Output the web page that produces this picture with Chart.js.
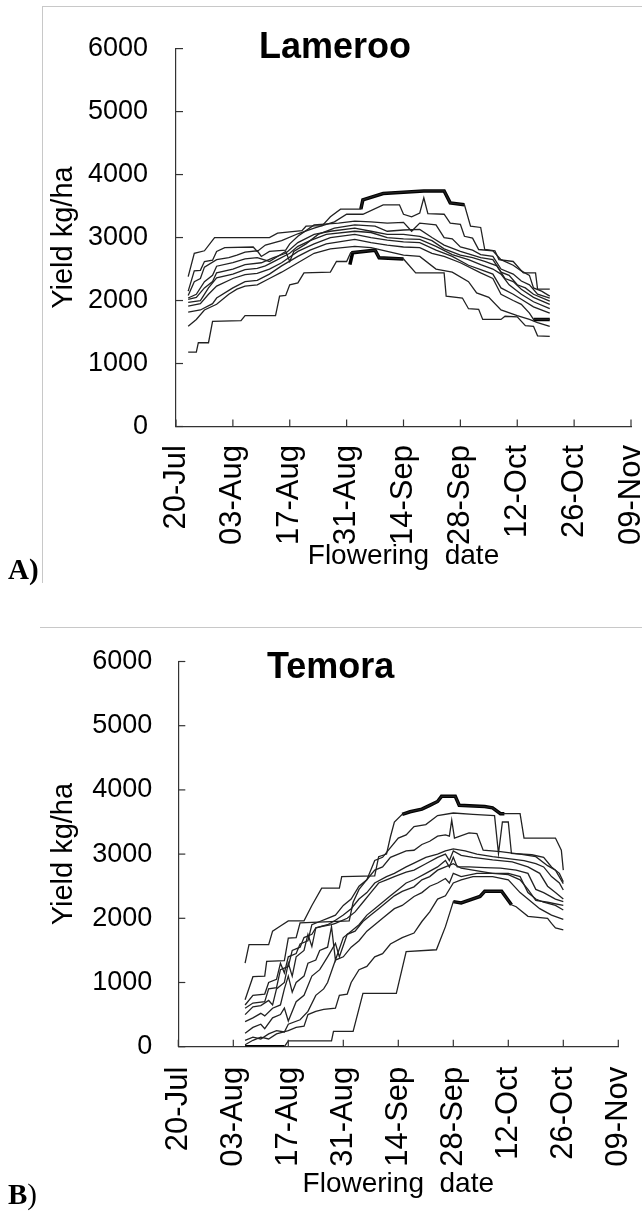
<!DOCTYPE html>
<html>
<head>
<meta charset="utf-8">
<script src="https://cdn.jsdelivr.net/npm/chart.js@4.4.1/dist/chart.umd.min.js"></script>
<style>
  html, body { margin: 0; padding: 0; background: #fff; width: 642px; height: 1213px; overflow: hidden; }
  .frameA { position: absolute; left: 42px; top: 6px; width: 600px; height: 576px; border-left: 1px solid #c8c8c8; border-top: 1px solid #c8c8c8; }
  .frameB { position: absolute; left: 40px; top: 627px; width: 602px; border-top: 1px solid #c8c8c8; }
  canvas { position: absolute; left: 0; }
  .site { position: absolute; font: bold 36px "Liberation Sans", Arial, sans-serif; line-height: 36px; color: #000; white-space: nowrap; }
  .tag { position: absolute; left: 8px; font: 29px "Liberation Serif", "Times New Roman", serif; line-height: 29px; color: #000; }
</style>
</head>
<body>
<div class="frameA"></div>
<div class="frameB"></div>
<canvas id="chartLameroo" width="642" height="600" style="top:0"></canvas>
<canvas id="chartTemora" width="642" height="613" style="top:600px"></canvas>
<div class="site" style="left:259px; top:28px">Lameroo</div>
<div class="site" style="left:267px; top:648px">Temora</div>
<div class="tag" style="top:555px"><b>A)</b></div>
<div class="tag" style="top:1180px"><b>B</b>)</div>
<script>
// x = days after 20-Jul, y = yield kg/ha
const dateTicks = ["20-Jul", "03-Aug", "17-Aug", "31-Aug", "14-Sep", "28-Sep", "12-Oct", "26-Oct", "09-Nov"];

// Lameroo
const lamL1 = [[3,2380],[4.5,2750],[7,2790],[9.5,3000],[23,3000],[25,3070],[31,3110],[32,3180],[36,3190],[38,3330],[40.5,3450],[45.5,3450],[46,3600],[51,3700],[61,3740],[66,3740],[67.5,3550],[71,3520],[72.5,3180],[75,3160],[76,2810],[78.5,2790],[79.5,2650],[83,2620],[85.5,2440],[88.5,2440],[89,2180],[92,2180]];
const lamL2 = [[3,2150],[4.5,2470],[6,2480],[7,2620],[9,2640],[10,2780],[12,2840],[19,2850],[20,2780],[22,2880],[26,2950],[30,3060],[34,3150],[39,3250],[42,3370],[46,3370],[51,3520],[55,3520],[56,3370],[58,3330],[60,3390],[61,3630],[62,3380],[66,3370],[67.5,3230],[70,3210],[71,3020],[73,2990],[74.5,2810],[78,2790],[80,2650],[83,2560],[85,2470],[87,2400],[88,2200],[90,2150],[92,2070]];
const lamL3 = [[3,2080],[4.5,2300],[6,2350],[7,2530],[10,2650],[13,2680],[15,2720],[17,2770],[20,2790],[21,2700],[23,2780],[27,2800],[28,2900],[30,3020],[34,3200],[40,3230],[44,3260],[48,3250],[52,3230],[56,3240],[58,3100],[60,3230],[64,3200],[66,3000],[68,2980],[70,2850],[73,2800],[75,2730],[78,2700],[80,2500],[83,2420],[85,2310],[87,2250],[89,2100],[92,2040]];
const lamL4 = [[3,2040],[5,2100],[7,2300],[9,2400],[10,2545],[14,2600],[17,2660],[20,2680],[23,2620],[25,2700],[27,2780],[28,2620],[29,2780],[32,2900],[35,3050],[39,3150],[44,3200],[49,3180],[52,3100],[56,3120],[60,3130],[63,3000],[66,2880],[70,2780],[73,2720],[75,2680],[78,2650],[80,2450],[82,2400],[84,2250],[86,2200],[88,2100],[92,1990]];
const lamL5 = [[3,2020],[5,2050],[7,2200],[9,2300],[10,2440],[14,2500],[17,2570],[21,2600],[24,2680],[27,2750],[30,2920],[34,3050],[38,3100],[44,3150],[48,3100],[52,3050],[56,3050],[60,3020],[63,2950],[66,2820],[70,2720],[73,2680],[76,2620],[79,2550],[81,2350],[83,2300],[85,2180],[88,2050],[92,1940]];
const lamL6 = [[3,1970],[6,2000],[8,2200],[10,2360],[14,2420],[17,2490],[20,2510],[22,2550],[25,2650],[28,2750],[30,2860],[33,2950],[37,3050],[44,3100],[48,3080],[52,3000],[56,2980],[60,2970],[64,2860],[68,2730],[72,2650],[75,2570],[78,2500],[80,2420],[82,2250],[85,2100],[88,1980],[92,1870]];
const lamL7 = [[3,1910],[6,1950],[8,2100],[10,2230],[14,2350],[17,2410],[20,2430],[23,2500],[26,2600],[30,2780],[34,2900],[38,3000],[44,3050],[48,3000],[52,2960],[56,2930],[60,2920],[64,2800],[68,2700],[72,2560],[75,2490],[78,2420],[80,2200],[83,2100],[85,2020],[88,1900],[92,1800]];
const lamL8 = [[3,1815],[6,1850],[9,1950],[10,2040],[14,2200],[17,2300],[20,2320],[23,2420],[26,2550],[30,2700],[33,2800],[37,2900],[44,2970],[48,2920],[52,2880],[56,2850],[60,2840],[63,2750],[66,2700],[70,2600],[75,2440],[78,2350],[80,2100],[83,2000],[85,1940],[87,1800],[88,1700],[92,1700]];
const lamL9 = [[3,1590],[5,1700],[7,1850],[10,1940],[13,2100],[15,2180],[17,2230],[20,2250],[23,2350],[26,2450],[30,2600],[34,2750],[38,2820],[44,2860],[48,2840],[52,2780],[56,2720],[60,2700],[64,2500],[68,2450],[72,2300],[74,2120],[77,2050],[80,1850],[84,1760],[87,1700],[89,1650],[92,1590]];
const lamL10 = [[3,1180],[5,1180],[5.5,1330],[8,1330],[9,1670],[16,1680],[17,1760],[24.5,1760],[25.5,2070],[27,2080],[28,2250],[30,2280],[31.5,2440],[38,2450],[39.5,2620],[42,2620],[43,2760],[49,2800],[50,2680],[56,2660],[59,2440],[66,2440],[66.5,2070],[70.5,2040],[72,1870],[74.5,1860],[75.5,1700],[80,1700],[81,1750],[84,1740],[86,1600],[88,1590],[89,1440],[92,1430]];
const lamBestHigh = [[45.5,3450],[46,3600],[51,3700],[61,3740],[66,3740],[67.5,3550],[71,3520]];
const lamBestLow = [[42.8,2570],[43.5,2760],[49,2800],[50,2680],[56,2660]];
const lamBestEnd = [[88,1700],[92,1700]];

// Temora
const temL1 = [[17,1300],[18,1590],[23,1590],[24,1800],[26,1880],[28,1960],[32,1960],[34,2200],[36.5,2470],[41,2470],[41.6,2650],[50,2660],[51,2960],[53,3000],[54,3270],[55,3500],[57,3620],[59,3660],[62,3700],[64,3760],[66,3820],[67,3900],[70.5,3900],[71.5,3760],[78,3740],[80,3720],[82,3630],[87,3630],[88,3250],[96,3250],[97.5,3060],[98,2750]];
const temL2 = [[17,730],[19,1090],[22,1100],[22.5,1330],[27,1340],[28,1690],[30,1700],[31,1930],[43.5,1960],[44.5,2250],[46,2450],[48,2600],[50,2900],[52,2950],[54,3100],[56,3250],[58,3300],[60,3430],[63,3460],[66,3600],[70,3640],[75,3620],[80.5,3600],[81.5,3010],[82.5,3500],[84,3500],[84.8,3010],[90,2990],[93,2950],[95,2800],[97,2700],[98,2570]];
const temL3 = [[17,650],[19,800],[22,820],[23,1000],[25,1050],[26,1300],[27,1150],[28,1400],[30,1450],[31,1600],[33,1650],[34,1900],[36,1950],[38,2000],[40,2050],[42,2200],[44,2300],[46,2500],[48,2600],[50,2750],[52,2800],[54,2950],[56,3000],[58,3050],[60,3060],[62,3150],[64,3200],[66,3280],[68,3300],[69,3280],[69.6,3530],[70.3,3250],[74,3330],[76,3320],[77.6,3060],[82,3040],[87,3000],[91,2960],[94,2820],[96,2750],[98,2540]];
const temL4 = [[17,600],[19,680],[22,700],[23,900],[25,920],[26,1200],[28,1250],[29,1500],[31,1550],[32,1700],[34,1750],[35,1850],[38,1900],[40,1970],[42,2050],[44,2150],[46,2300],[48,2400],[50,2550],[53,2650],[55,2700],[58,2800],[60,2860],[63,2950],[66,3000],[68,3050],[70,3080],[73,3050],[76,3000],[80,2960],[84,2930],[88,2900],[91,2850],[93,2800],[95,2650],[97,2550],[98,2440]];
const temL5 = [[17,500],[19,620],[21,640],[23,720],[24,650],[25,900],[27,1000],[28,1300],[29,1100],[30,1400],[32,1500],[33,1750],[34,1560],[35,1850],[37,1880],[39,1900],[40,1920],[43,2000],[45,2100],[47,2250],[49,2400],[51,2550],[53,2600],[55,2650],[58,2720],[60,2750],[63,2850],[66,2950],[68,3000],[69,2900],[70,3050],[72,2980],[75,2950],[80,2910],[85,2880],[89,2800],[92,2700],[94,2500],[96,2400],[98,2300]];
const temL6 = [[17,390],[19,450],[21,520],[22,480],[24,600],[26,650],[27,900],[28,1100],[29,850],[30,1000],[32,1100],[33,1300],[35,1350],[36,1500],[38,1550],[39,1870],[40,1350],[42,1700],[44,1800],[46,1900],[48,2050],[50,2150],[52,2250],[54,2350],[56,2450],[58,2550],[60,2600],[63,2700],[66,2800],[68,2900],[69,2800],[70,2950],[71,2800],[74,2800],[78,2790],[82,2780],[86,2750],[89,2700],[91,2450],[93,2400],[96,2300],[98,2260]];
const temL7 = [[17,210],[19,300],[21,350],[22,280],[24,450],[26,500],[27,600],[28,400],[30,700],[32,800],[34,1100],[36,1200],[38,1400],[40,1610],[41,1400],[43,1750],[45,1800],[47,1950],[49,2050],[51,2150],[53,2250],[55,2350],[57,2420],[60,2490],[62,2600],[64,2650],[66,2750],[68,2800],[70,2850],[72,2780],[75,2750],[80,2700],[84,2700],[87,2650],[89,2400],[91,2300],[93,2250],[96,2200],[98,2130]];
const temL8 = [[17,100],[19,150],[21,120],[23,200],[25,250],[27,230],[28,350],[31,420],[33,550],[35,800],[37,900],[38,1000],[40,1350],[42,1400],[44,1550],[46,1650],[48,1800],[50,1900],[52,2000],[55,2150],[57,2200],[60,2340],[62,2400],[64,2500],[66,2550],[68,2620],[69,2550],[70,2700],[72,2650],[76,2700],[80,2700],[84,2680],[87,2600],[89,2450],[91,2280],[94,2250],[98,2200]];
const temL9 = [[17,30],[19,100],[21,150],[23,120],[25,200],[28,250],[30,300],[32,320],[33,500],[35,550],[37,580],[40,600],[41,800],[43,820],[44,1000],[46,1200],[48,1250],[50,1400],[52,1450],[54,1600],[57,1700],[60,1770],[62,1950],[64,2100],[66,2300],[68,2350],[70,2550],[72,2600],[75,2650],[80,2650],[84,2600],[87,2400],[89,2300],[92,2150],[95,2050],[98,1985]];
const temL10 = [[17,0],[27,0],[28,90],[39,90],[39.5,240],[44.5,240],[47,830],[55.5,830],[58,1480],[65.7,1510],[68,1870],[70,2260],[72,2240],[76.8,2340],[78,2420],[82.3,2420],[84.8,2210],[86,2180],[89,2030],[94,2000],[95,1920],[96,1850],[98,1820]];
const temBestHigh = [[57,3620],[59,3660],[62,3700],[64,3760],[66,3820],[67,3900],[70.5,3900],[71.5,3760],[78,3740],[80,3720],[82,3630],[83,3630]];
const temBestLow = [[70,2260],[72,2240],[76.8,2340],[78,2420],[82.3,2420],[84.8,2210]];
const temBestStart = [[17,0],[27,0]];

const font = '"Liberation Sans", Arial, sans-serif';

const innerTicks = {
  id: "innerTicks",
  afterDraw(chart) {
    const { ctx, chartArea, scales } = chart;
    ctx.save();
    ctx.strokeStyle = "#333";
    ctx.lineWidth = 1.2;
    scales.x.ticks.forEach((t) => {
      const px = scales.x.getPixelForValue(t.value);
      ctx.beginPath();
      ctx.moveTo(px, chartArea.bottom);
      ctx.lineTo(px, chartArea.bottom - 7);
      ctx.stroke();
    });
    scales.y.ticks.forEach((t) => {
      const py = scales.y.getPixelForValue(t.value);
      ctx.beginPath();
      ctx.moveTo(chartArea.left, py);
      ctx.lineTo(chartArea.left + 7, py);
      ctx.stroke();
    });
    ctx.restore();
  },
};

function line(points, thick) {
  return {
    data: points.map((p) => ({ x: p[0], y: p[1] })),
    borderColor: thick ? "#000" : "#222",
    borderWidth: thick ? 3.5 : 1.3,
    pointRadius: 0,
    tension: 0,
    fill: false,
  };
}

function makeChart(id, thin, thick, geo) {
  new Chart(document.querySelector(id), {
    type: "line",
    data: { datasets: thin.map((s) => line(s, false)).concat(thick.map((s) => line(s, true))) },
    options: {
      responsive: false,
      animation: false,
      devicePixelRatio: 1,
      layout: { padding: { top: geo.top, right: geo.right, bottom: 0, left: 0 } },
      plugins: { legend: { display: false }, tooltip: { enabled: false } },
      scales: {
        x: {
          type: "linear",
          min: 0,
          max: 112,
          grid: { display: false },
          border: { display: true, color: "#333", width: 1.2 },
          ticks: {
            stepSize: 14,
            autoSkip: false,
            minRotation: 90,
            maxRotation: 90,
            padding: geo.xPad,
            color: "#000",
            font: { family: font, size: 31 },
            callback: (v) => dateTicks[v / 14],
          },
          title: { display: true, text: "Flowering  date", color: "#000", font: { family: font, size: 28 }, padding: { top: 0, bottom: geo.xTitlePad } },
          afterFit: (s) => { s.height = geo.xHeight; s.paddingLeft = 0; s.paddingRight = 0; },
        },
        y: {
          min: 0,
          max: 6000,
          grid: { display: false },
          border: { display: true, color: "#333", width: 1.2 },
          ticks: { stepSize: 1000, padding: geo.yPad, color: "#000", font: { family: font, size: 27 }, callback: (v) => String(v) },
          title: { display: true, text: "Yield kg/ha", color: "#000", font: { family: font, size: 29 }, padding: { top: 47, bottom: 0 } },
          afterFit: (s) => { s.width = geo.yWidth; s.paddingTop = 0; s.paddingBottom = 0; },
        },
      },
    },
    plugins: [innerTicks],
  });
}

document.addEventListener("DOMContentLoaded", () => {
  makeChart("#chartLameroo",
    [lamL1, lamL2, lamL3, lamL4, lamL5, lamL6, lamL7, lamL8, lamL9, lamL10],
    [lamBestHigh, lamBestLow, lamBestEnd],
    { top: 48.6, right: 11, xHeight: 173.5, yWidth: 176, xPad: 10.5, yPad: 20, xTitlePad: 27 });
  makeChart("#chartTemora",
    [temL1, temL2, temL3, temL4, temL5, temL6, temL7, temL8, temL9, temL10],
    [temBestHigh, temBestLow, temBestStart],
    { top: 61.5, right: 23.7, xHeight: 166.3, yWidth: 178.3, xPad: 12, yPad: 18, xTitlePad: 12 });
});
</script>
</body>
</html>
